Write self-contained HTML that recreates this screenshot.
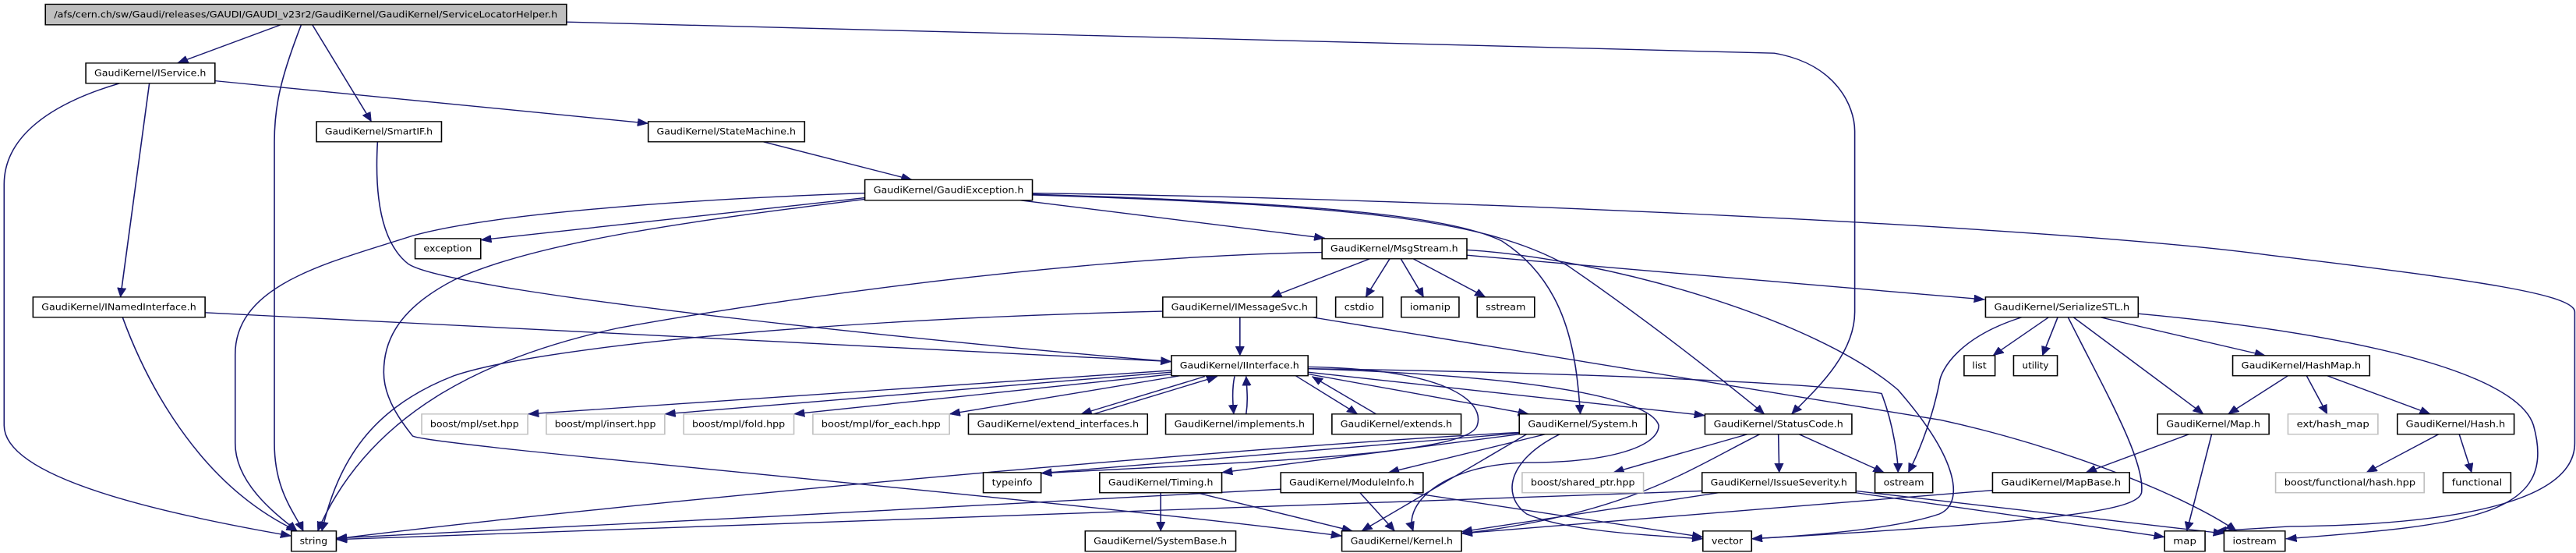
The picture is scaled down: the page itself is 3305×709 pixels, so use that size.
<!DOCTYPE html>
<html><head><meta charset="utf-8"><style>
html,body{margin:0;padding:0;background:#fff;}
svg{display:block;}
text{font-family:"DejaVu Sans","Liberation Sans",sans-serif;font-size:26px;fill:#000;}
.e{fill:none;stroke:#191970;stroke-width:3;}
.n{fill:#fff;stroke:#000;stroke-width:3;}
.g{fill:#fff;stroke:#bfbfbf;stroke-width:3;}
</style></head><body>
<svg width="3305" height="709" viewBox="0 0 6243 1560" preserveAspectRatio="none" xmlns="http://www.w3.org/2000/svg">
<defs><marker id="a" markerUnits="userSpaceOnUse" markerWidth="28" markerHeight="22" refX="26" refY="11" orient="auto"><path d="M0,0 L26,11 L0,22 z" fill="#191970" stroke="#191970"/></marker></defs>
<g class="e" marker-end="url(#a)">
<path d="M680,70 L430,178"/>
<path d="M730,70 C680,220 665,300 665,400 L665,1250 C665,1380 710,1440 735,1498"/>
<path d="M757,70 L900,343"/>
<path d="M1373,62 L4300,150 C4450,180 4495,300 4495,370 L4495,880 C4495,1000 4400,1100 4342,1168"/>
<path d="M290,235 C100,300 10,400 10,520 L10,1200 C10,1350 400,1450 706,1512"/>
<path d="M362,235 L292,838"/>
<path d="M521,228 L1571,348"/>
<path d="M915,400 C905,600 940,700 990,745 C1100,830 2400,980 2839,1020"/>
<path d="M1850,400 L2210,507"/>
<path d="M2096,545 C1700,560 1200,600 1000,665 C800,740 570,800 570,1000 L570,1250 C570,1370 680,1460 720,1498"/>
<path d="M2096,558 L1165,677"/>
<path d="M2096,562 C1700,620 1300,680 1100,790 C950,880 930,980 930,1050 C930,1130 980,1200 1000,1230 C1050,1260 2500,1400 3252,1512"/>
<path d="M2473,565 L3211,672"/>
<path d="M2502,548 C3100,570 3500,600 3640,680 C3800,800 3820,1000 3830,1168"/>
<path d="M2502,550 C3300,580 3600,620 3800,750 C3950,870 4100,1000 4276,1168"/>
<path d="M2502,545 C3500,560 5000,640 5500,720 C6000,790 6240,830 6240,880 L6240,1250 C6240,1400 6000,1480 5550,1485 L5370,1498"/>
<path d="M3204,712 C2700,720 2000,820 1500,925 C1200,1000 900,1150 770,1498"/>
<path d="M3320,730 L3080,838"/>
<path d="M3368,730 L3310,838"/>
<path d="M3395,730 L3450,838"/>
<path d="M3425,730 L3600,838"/>
<path d="M3555,720 L4810,845"/>
<path d="M3555,705 C3900,730 4400,900 4600,1100 C4750,1300 4760,1420 4700,1450 C4600,1490 4400,1510 4245,1520"/>
<path d="M297,895 C330,1000 450,1350 720,1498"/>
<path d="M497,882 L2839,1020"/>
<path d="M3005,895 L3005,1003"/>
<path d="M2818,878 C2000,900 1300,980 1100,1060 C900,1150 820,1300 780,1498"/>
<path d="M3180,895 L4704,1185 C5000,1260 5300,1400 5420,1498"/>
<path d="M2839,1045 L1280,1168"/>
<path d="M2839,1050 L1611,1168"/>
<path d="M2845,1055 L1924,1168"/>
<path d="M2860,1060 L2301,1168"/>
<path d="M2920,1062 L2620,1168"/>
<path d="M2650,1168 L2950,1062"/>
<path d="M2992,1062 C2985,1100 2988,1140 2990,1168"/>
<path d="M3020,1168 C3025,1130 3022,1100 3020,1062"/>
<path d="M3140,1060 L3290,1168"/>
<path d="M3335,1168 L3180,1062"/>
<path d="M3170,1055 L3705,1168"/>
<path d="M3170,1050 L4132,1172"/>
<path d="M3170,1040 C3800,1050 4400,1080 4560,1110 C4590,1200 4600,1300 4600,1333"/>
<path d="M3170,1035 C3500,1040 3600,1130 3580,1200 C3560,1280 3100,1300 2523,1335"/>
<path d="M3170,1040 C3700,1060 4000,1120 4020,1200 C4020,1260 3900,1305 3700,1305 C3500,1310 3400,1420 3425,1498"/>
<path d="M4965,895 L4830,1003"/>
<path d="M4987,895 L4950,1003"/>
<path d="M5090,895 L5490,1003"/>
<path d="M5025,895 L5340,1168"/>
<path d="M5012,895 C5100,1100 5200,1300 5190,1390 C5180,1440 5000,1470 4245,1520"/>
<path d="M4900,895 C4750,950 4704,1040 4700,1080 C4680,1200 4640,1300 4625,1333"/>
<path d="M5182,885 C5700,940 6100,1050 6140,1200 C6200,1450 6000,1480 5540,1520"/>
<path d="M5545,1060 L5400,1168"/>
<path d="M5590,1060 L5640,1168"/>
<path d="M5640,1060 L5890,1168"/>
<path d="M5910,1225 L5735,1333"/>
<path d="M5960,1225 L5990,1333"/>
<path d="M5305,1225 L5055,1333"/>
<path d="M5360,1225 L5300,1498"/>
<path d="M4829,1383 L3542,1505"/>
<path d="M4498,1390 L5246,1515"/>
<path d="M4498,1385 L5390,1505"/>
<path d="M3682,1220 C3000,1260 1500,1420 815,1520"/>
<path d="M3682,1222 L2523,1335"/>
<path d="M3682,1225 L2961,1333"/>
<path d="M3745,1225 L3365,1333"/>
<path d="M3700,1225 L3300,1498"/>
<path d="M3780,1225 C3650,1300 3640,1400 3700,1450 C3800,1500 4000,1510 4127,1520"/>
<path d="M2813,1390 L2813,1498"/>
<path d="M2900,1390 L3278,1498"/>
<path d="M3296,1390 L3380,1498"/>
<path d="M3420,1390 L4127,1515"/>
<path d="M3104,1380 C2500,1420 1500,1480 815,1518"/>
<path d="M4235,1225 L3910,1333"/>
<path d="M4265,1225 C4100,1320 3950,1450 3542,1505"/>
<path d="M4310,1225 L4312,1333"/>
<path d="M4360,1225 L4566,1333"/>
<path d="M4165,1390 L3542,1500"/>
<path d="M4125,1385 L815,1522"/>
</g>
<g>
<rect x="110" y="12" width="1263" height="58" fill="#bfbfbf" stroke="#000" stroke-width="3"/>
<text x="741" y="50" text-anchor="middle" textLength="1220" lengthAdjust="spacingAndGlyphs">/afs/cern.ch/sw/Gaudi/releases/GAUDI/GAUDI_v23r2/GaudiKernel/GaudiKernel/ServiceLocatorHelper.h</text>

<rect class="n" x="208" y="178" width="313" height="57"/><text x="364" y="215" text-anchor="middle" textLength="271" lengthAdjust="spacingAndGlyphs">GaudiKernel/IService.h</text>
<rect class="n" x="767" y="343" width="303" height="57"/><text x="918" y="380" text-anchor="middle" textLength="261" lengthAdjust="spacingAndGlyphs">GaudiKernel/SmartIF.h</text>
<rect class="n" x="1571" y="343" width="379" height="57"/><text x="1760" y="380" text-anchor="middle" textLength="337" lengthAdjust="spacingAndGlyphs">GaudiKernel/StateMachine.h</text>
<rect class="n" x="2096" y="507" width="406" height="58"/><text x="2299" y="545" text-anchor="middle" textLength="364" lengthAdjust="spacingAndGlyphs">GaudiKernel/GaudiException.h</text>
<rect class="n" x="1006" y="673" width="159" height="57"/><text x="1085" y="710" text-anchor="middle" textLength="117" lengthAdjust="spacingAndGlyphs">exception</text>
<rect class="n" x="3204" y="673" width="351" height="57"/><text x="3379" y="710" text-anchor="middle" textLength="309" lengthAdjust="spacingAndGlyphs">GaudiKernel/MsgStream.h</text>
<rect class="n" x="80" y="838" width="417" height="57"/><text x="288" y="875" text-anchor="middle" textLength="375" lengthAdjust="spacingAndGlyphs">GaudiKernel/INamedInterface.h</text>
<rect class="n" x="2818" y="838" width="373" height="57"/><text x="3004" y="875" text-anchor="middle" textLength="331" lengthAdjust="spacingAndGlyphs">GaudiKernel/IMessageSvc.h</text>
<rect class="n" x="3237" y="838" width="114" height="57"/><text x="3294" y="875" text-anchor="middle" textLength="72" lengthAdjust="spacingAndGlyphs">cstdio</text>
<rect class="n" x="3396" y="838" width="140" height="57"/><text x="3466" y="875" text-anchor="middle" textLength="98" lengthAdjust="spacingAndGlyphs">iomanip</text>
<rect class="n" x="3580" y="838" width="139" height="57"/><text x="3649" y="875" text-anchor="middle" textLength="97" lengthAdjust="spacingAndGlyphs">sstream</text>
<rect class="n" x="4812" y="838" width="370" height="57"/><text x="4997" y="875" text-anchor="middle" textLength="328" lengthAdjust="spacingAndGlyphs">GaudiKernel/SerializeSTL.h</text>
<rect class="n" x="2839" y="1003" width="331" height="57"/><text x="3004" y="1040" text-anchor="middle" textLength="289" lengthAdjust="spacingAndGlyphs">GaudiKernel/IInterface.h</text>
<rect class="n" x="4760" y="1003" width="75" height="57"/><text x="4797" y="1040" text-anchor="middle" textLength="35" lengthAdjust="spacingAndGlyphs">list</text>
<rect class="n" x="4880" y="1003" width="106" height="57"/><text x="4933" y="1040" text-anchor="middle" textLength="64" lengthAdjust="spacingAndGlyphs">utility</text>
<rect class="n" x="5411" y="1003" width="332" height="57"/><text x="5577" y="1040" text-anchor="middle" textLength="290" lengthAdjust="spacingAndGlyphs">GaudiKernel/HashMap.h</text>

<rect class="g" x="1022" y="1168" width="257" height="57"/><text x="1150" y="1205" text-anchor="middle" textLength="215" lengthAdjust="spacingAndGlyphs">boost/mpl/set.hpp</text>
<rect class="g" x="1324" y="1168" width="287" height="57"/><text x="1467" y="1205" text-anchor="middle" textLength="245" lengthAdjust="spacingAndGlyphs">boost/mpl/insert.hpp</text>
<rect class="g" x="1657" y="1168" width="267" height="57"/><text x="1790" y="1205" text-anchor="middle" textLength="225" lengthAdjust="spacingAndGlyphs">boost/mpl/fold.hpp</text>
<rect class="g" x="1970" y="1168" width="331" height="57"/><text x="2135" y="1205" text-anchor="middle" textLength="289" lengthAdjust="spacingAndGlyphs">boost/mpl/for_each.hpp</text>
<rect class="n" x="2347" y="1168" width="434" height="57"/><text x="2564" y="1205" text-anchor="middle" textLength="392" lengthAdjust="spacingAndGlyphs">GaudiKernel/extend_interfaces.h</text>
<rect class="n" x="2825" y="1168" width="358" height="57"/><text x="3004" y="1205" text-anchor="middle" textLength="316" lengthAdjust="spacingAndGlyphs">GaudiKernel/implements.h</text>
<rect class="n" x="3228" y="1168" width="313" height="57"/><text x="3384" y="1205" text-anchor="middle" textLength="271" lengthAdjust="spacingAndGlyphs">GaudiKernel/extends.h</text>
<rect class="n" x="3682" y="1168" width="308" height="57"/><text x="3836" y="1205" text-anchor="middle" textLength="266" lengthAdjust="spacingAndGlyphs">GaudiKernel/System.h</text>
<rect class="n" x="4132" y="1168" width="356" height="57"/><text x="4310" y="1205" text-anchor="middle" textLength="314" lengthAdjust="spacingAndGlyphs">GaudiKernel/StatusCode.h</text>
<rect class="n" x="5229" y="1168" width="270" height="57"/><text x="5364" y="1205" text-anchor="middle" textLength="228" lengthAdjust="spacingAndGlyphs">GaudiKernel/Map.h</text>
<rect class="g" x="5545" y="1168" width="218" height="57"/><text x="5654" y="1205" text-anchor="middle" textLength="176" lengthAdjust="spacingAndGlyphs">ext/hash_map</text>
<rect class="n" x="5810" y="1168" width="283" height="57"/><text x="5951" y="1205" text-anchor="middle" textLength="241" lengthAdjust="spacingAndGlyphs">GaudiKernel/Hash.h</text>

<rect class="n" x="2383" y="1333" width="140" height="57"/><text x="2453" y="1370" text-anchor="middle" textLength="98" lengthAdjust="spacingAndGlyphs">typeinfo</text>
<rect class="n" x="2665" y="1333" width="296" height="57"/><text x="2813" y="1370" text-anchor="middle" textLength="254" lengthAdjust="spacingAndGlyphs">GaudiKernel/Timing.h</text>
<rect class="n" x="3104" y="1333" width="345" height="57"/><text x="3276" y="1370" text-anchor="middle" textLength="303" lengthAdjust="spacingAndGlyphs">GaudiKernel/ModuleInfo.h</text>
<rect class="g" x="3689" y="1333" width="294" height="57"/><text x="3836" y="1370" text-anchor="middle" textLength="252" lengthAdjust="spacingAndGlyphs">boost/shared_ptr.hpp</text>
<rect class="n" x="4125" y="1333" width="373" height="57"/><text x="4311" y="1370" text-anchor="middle" textLength="331" lengthAdjust="spacingAndGlyphs">GaudiKernel/IssueSeverity.h</text>
<rect class="n" x="4544" y="1333" width="140" height="57"/><text x="4614" y="1370" text-anchor="middle" textLength="98" lengthAdjust="spacingAndGlyphs">ostream</text>
<rect class="n" x="4829" y="1333" width="332" height="57"/><text x="4995" y="1370" text-anchor="middle" textLength="290" lengthAdjust="spacingAndGlyphs">GaudiKernel/MapBase.h</text>
<rect class="g" x="5515" y="1333" width="360" height="57"/><text x="5695" y="1370" text-anchor="middle" textLength="318" lengthAdjust="spacingAndGlyphs">boost/functional/hash.hpp</text>
<rect class="n" x="5921" y="1333" width="164" height="57"/><text x="6003" y="1370" text-anchor="middle" textLength="122" lengthAdjust="spacingAndGlyphs">functional</text>

<rect class="n" x="706" y="1498" width="109" height="57"/><text x="760" y="1535" text-anchor="middle" textLength="67" lengthAdjust="spacingAndGlyphs">string</text>
<rect class="n" x="2630" y="1498" width="365" height="57"/><text x="2812" y="1535" text-anchor="middle" textLength="323" lengthAdjust="spacingAndGlyphs">GaudiKernel/SystemBase.h</text>
<rect class="n" x="3252" y="1498" width="290" height="57"/><text x="3397" y="1535" text-anchor="middle" textLength="248" lengthAdjust="spacingAndGlyphs">GaudiKernel/Kernel.h</text>
<rect class="n" x="4127" y="1498" width="118" height="57"/><text x="4186" y="1535" text-anchor="middle" textLength="76" lengthAdjust="spacingAndGlyphs">vector</text>
<rect class="n" x="5246" y="1498" width="98" height="57"/><text x="5295" y="1535" text-anchor="middle" textLength="56" lengthAdjust="spacingAndGlyphs">map</text>
<rect class="n" x="5390" y="1498" width="148" height="57"/><text x="5464" y="1535" text-anchor="middle" textLength="106" lengthAdjust="spacingAndGlyphs">iostream</text>
</g>
</svg>
</body></html>
